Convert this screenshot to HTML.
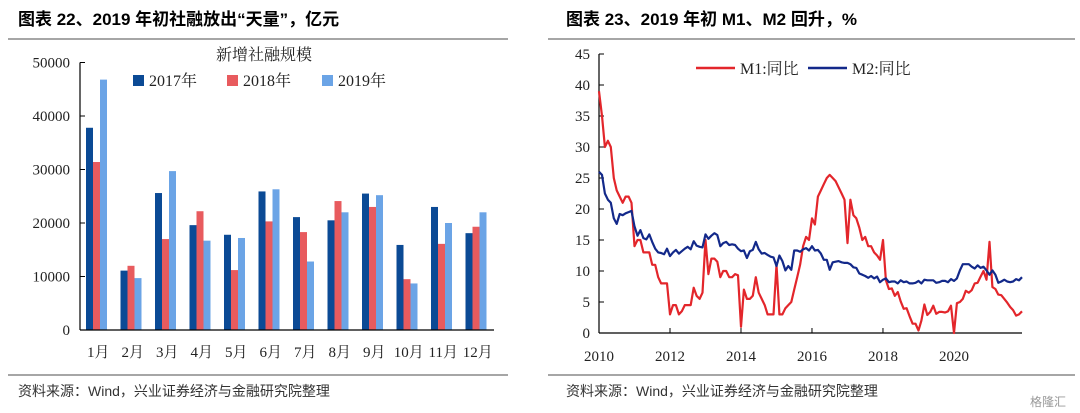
<!DOCTYPE html>
<html><head><meta charset="utf-8">
<style>
body{margin:0;background:#fff;}
svg{display:block;}
.serif{font-family:"Liberation Serif","Noto Serif CJK SC",serif;}
.sans{font-family:"Liberation Sans","Noto Sans CJK SC",sans-serif;}
</style></head>
<body>
<svg id="s" width="1080" height="413" viewBox="0 0 1080 413" xmlns="http://www.w3.org/2000/svg">
<text x="18" y="25" class="sans" font-size="17" font-weight="bold" fill="#000">图表 22、2019 年初社融放出“天量”，亿元</text>
<line x1="8" y1="39" x2="508" y2="39" stroke="#888" stroke-width="1.5"/>
<text x="566" y="25" class="sans" font-size="17" font-weight="bold" fill="#000">图表 23、2019 年初 M1、M2 回升，%</text>
<line x1="548" y1="39" x2="1075" y2="39" stroke="#888" stroke-width="1.5"/>
<line x1="8" y1="375" x2="508" y2="375" stroke="#888" stroke-width="1.5"/>
<line x1="548" y1="375" x2="1075" y2="375" stroke="#888" stroke-width="1.5"/>
<text x="18" y="396" class="sans" font-size="14" fill="#333">资料来源：Wind，兴业证券经济与金融研究院整理</text>
<text x="566" y="396" class="sans" font-size="14" fill="#333">资料来源：Wind，兴业证券经济与金融研究院整理</text>
<text x="1030" y="406" class="sans" font-size="12" fill="#999">格隆汇</text>
<g id="left"></g>
<g id="right"></g>
</svg>
<script>
const months=["1月","2月","3月","4月","5月","6月","7月","8月","9月","10月","11月","12月"];
const series2017=[37800,11100,25600,19600,17800,25900,21100,20500,25500,15900,23000,18100];
const series2018=[31400,12000,17000,22200,11200,20300,18300,24100,23000,9500,16100,19300];
const series2019=[46800,9700,29700,16700,17200,26300,12800,22000,25200,8700,20000,22000];
const barTicks=[0,10000,20000,30000,40000,50000];
const seriesNames=["2017年","2018年","2019年"];

const years=[2010,2012,2014,2016,2018,2020];
const lineTicks=[0,5,10,15,20,25,30,35,40,45];
const m1=[39,35,30,31,30,25,23,22,21,22,22,21,
14,15,15,13,13,13,11,11,9,8,8,8,
3,4.5,4.5,3,3.5,4.5,4.5,4.5,7.3,6,5.5,6.5,
15,9.5,12,12,11.5,9,10,10,9,9,9.5,9.3,
1,7,5.5,5.5,6,9,6.5,5.5,4.5,3,3,3,
11,3,3,4,4.5,5,7,9,11,14,15.5,15,
18.5,17.5,22,23,24,25,25.5,25,24.5,23.5,22.5,21.5,
14.5,21.5,19,18.5,17,15,15.5,14,14,13,12.5,11.8,
15,8.5,7.1,7.2,6,6.6,5.1,3.9,4,2.7,1.5,1.5,
0.4,2,4.6,2.9,3.4,4.4,3.1,3.4,3.4,3.3,3.5,4.4,
0,4.8,5,5.5,6.8,6.5,6.9,8,8.1,9.1,10,8.6,
14.7,7.4,7.1,6.2,6.1,5.5,4.9,4.2,3.7,2.8,3,3.5];
const m2=[26,25.5,22.5,21.5,21,18.5,17.6,19.2,19,19.3,19.5,19.7,
17.2,15.7,16.6,15.3,15.1,15.9,14.7,13.6,13,12.9,12.7,13.6,
12.4,13,13.4,12.8,13.2,13.6,13.9,13.5,14.8,14.1,13.9,13.8,
15.9,15.2,15.7,16.1,15.8,14,14.5,14.7,14.2,14.3,14.2,13.6,
13.2,13.3,12.1,13.2,13.4,14.7,13.5,12.8,12.9,12.6,12.3,12.2,
10.8,12.5,11.6,10.1,10.8,10.2,13.3,13.3,13.1,13.5,13.7,13.3,
14,13.3,13.4,12.8,11.8,11.8,10.2,11.4,11.5,11.6,11.4,11.3,
11.3,11.1,10.6,10.5,9.6,9.4,9.2,8.9,9.2,8.8,9.1,8.2,
8.6,8.8,8.2,8.3,8.3,8,8.5,8.2,8.3,8,8,8.1,
8.4,8,8.6,8.5,8.5,8.5,8.1,8.2,8.4,8.4,8.2,8.7,
8.4,8.8,10.1,11.1,11.1,11.1,10.7,10.4,10.9,10.5,10.7,10.1,
9.4,10.1,9.4,8.1,8.3,8.6,8.3,8.2,8.3,8.7,8.5,9];

const NS="http://www.w3.org/2000/svg";
function mk(tag,attrs,parent,txt){const e=document.createElementNS(NS,tag);for(const k in attrs)e.setAttribute(k,attrs[k]);if(txt!==undefined)e.textContent=txt;parent.appendChild(e);return e;}

// Left bar chart
const L=document.getElementById('left');
const bx0=80,bx1=494,by0=330,by1=62.5,bmax=50000;
const yB=v=>by0-(v/bmax)*(by0-by1);
const gw=(bx1-bx0)/12;
const colors=["#0b4a95","#e85b5e","#6ba4e6"];
const data=[series2017,series2018,series2019];
data.forEach((ser,si)=>{ser.forEach((v,i)=>{
 const x=bx0+gw*i+6+si*7;
 const r=mk('rect',{x:x,y:yB(v),width:7,height:by0-yB(v),fill:colors[si]},L);
 
 
});});
let a=mk('line',{x1:bx0,y1:by1,x2:bx0,y2:by0,stroke:'#000','stroke-width':1.2},L);

a=mk('line',{x1:bx0,y1:by0,x2:bx1,y2:by0,stroke:'#000','stroke-width':1.2},L);

barTicks.forEach(t=>{
 mk('line',{x1:bx0,y1:yB(t),x2:bx0+5,y2:yB(t),stroke:'#000'},L);
 const e=mk('text',{x:70,y:yB(t)+5,'text-anchor':'end','font-size':15,class:'serif',fill:'#222'},L,String(t));
 
});
months.forEach((m,i)=>{
 const e=mk('text',{x:bx0+gw*(i+0.5)+1,y:357,'text-anchor':'middle','font-size':15,class:'serif',fill:'#222'},L,m);
 
});
let t=mk('text',{x:264,y:60,'text-anchor':'middle','font-size':16,class:'serif',fill:'#222'},L,'新增社融规模');

const lgx=[133,227,322];
seriesNames.forEach((n,i)=>{
 const g=mk('g',{},L);
 
 mk('rect',{x:lgx[i],y:75,width:11,height:11,fill:colors[i]},g);
 mk('text',{x:lgx[i]+16,y:86,'font-size':16,class:'serif',fill:'#222'},g,n);
});

// Right line chart
const R=document.getElementById('right');
const lx0=599,lx1=1022,ly0=333,ly1=54;
const xL=i=>lx0+(i/143)*(lx1-lx0);
const yL=v=>ly0-(v/45)*(ly0-ly1);
const xYear=y=>lx0+((y-2010)*12/143)*(lx1-lx0);
a=mk('line',{x1:lx0,y1:ly1,x2:lx0,y2:ly0,stroke:'#000','stroke-width':1.2},R);

a=mk('line',{x1:lx0,y1:ly0,x2:lx1,y2:ly0,stroke:'#000','stroke-width':1.2},R);

lineTicks.forEach(v=>{
 mk('line',{x1:lx0,y1:yL(v),x2:lx0+5,y2:yL(v),stroke:'#000'},R);
 const e=mk('text',{x:590,y:yL(v)+5,'text-anchor':'end','font-size':15,class:'serif',fill:'#222'},R,String(v));
 
});
years.forEach(y=>{
 mk('line',{x1:xYear(y),y1:ly0,x2:xYear(y),y2:ly0-5,stroke:'#000'},R);
 const e=mk('text',{x:xYear(y),y:361,'text-anchor':'middle','font-size':15,class:'serif',fill:'#222'},R,String(y));
 
});
function path(arr){return arr.map((v,i)=>(i?'L':'M')+xL(i).toFixed(1)+' '+yL(v).toFixed(1)).join(' ');}
let p=mk('path',{d:path(m1),fill:'none',stroke:'#e3262b','stroke-width':2.2,'stroke-linejoin':'round'},R);

p=mk('path',{d:path(m2),fill:'none',stroke:'#13298a','stroke-width':2.2,'stroke-linejoin':'round'},R);

let g=mk('g',{},R);
mk('line',{x1:696,y1:68,x2:735,y2:68,stroke:'#e3262b','stroke-width':2.5},g);
mk('text',{x:740,y:74,'font-size':16,class:'serif',fill:'#222'},g,'M1:同比');
g=mk('g',{},R);
mk('line',{x1:808,y1:68,x2:847,y2:68,stroke:'#13298a','stroke-width':2.5},g);
mk('text',{x:852,y:74,'font-size':16,class:'serif',fill:'#222'},g,'M2:同比');
</script>
</body></html>
